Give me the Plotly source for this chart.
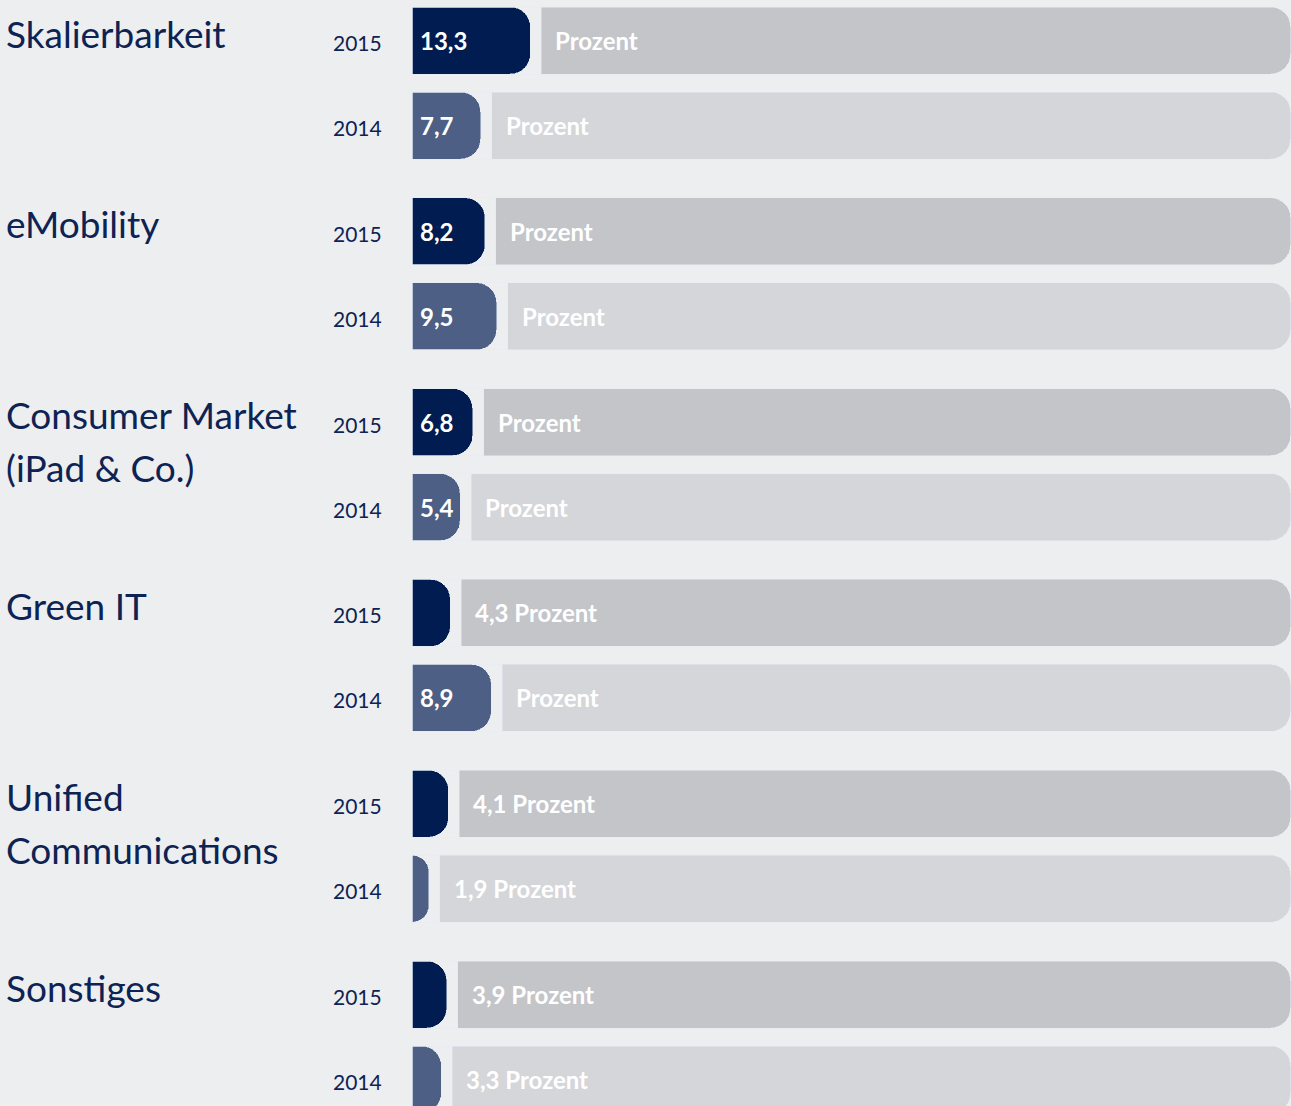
import plotly.graph_objects as go

categories = ["Skalierbarkeit", "eMobility", "Consumer Market<br>(iPad & Co.)",
              "Green IT", "Unified<br>Communications", "Sonstiges"]
years = ["2015", "2014"]
v2015 = [13.3, 8.2, 6.8, 4.3, 4.1, 3.9]
v2014 = [7.7, 9.5, 5.4, 8.9, 1.9, 3.3]

W, H = 1291, 1106
PX = 8.9          # pixels per percent
X0 = 412          # pixel where bars start
GAP = 11 / PX     # gap between coloured and grey bar
XMAX = (W - X0) / PX

FIRST = 40.5      # centre of first bar (pixels)
GROUP = 190.8
ROW = 85

colors = {"2015": "#001c50", "2014": "#4d5f85"}
greys = {"2015": "#c4c5c9", "2014": "#d5d6d9"}
navy = "#0d2353"
lab_font = dict(family="Lato", size=24, color="white", weight="bold")


def fmt(v):
    return f"{v:.1f}".replace(".", ",")


fig = go.Figure()
annotations = []
for k, (yr, vals) in enumerate(zip(years, [v2015, v2014])):
    ypos = [FIRST + g * GROUP + k * ROW for g in range(len(categories))]
    # coloured value bars on x/y
    fig.add_trace(go.Bar(
        x=vals, y=ypos, orientation="h", width=67,
        marker=dict(color=colors[yr], cornerradius=20), hoverinfo="skip",
        xaxis="x", yaxis="y",
    ))
    # grey remainder: invisible spacer + grey bar stacked on second axes
    fig.add_trace(go.Bar(
        x=[v + GAP for v in vals], y=ypos, orientation="h", width=67,
        marker=dict(color="rgba(0,0,0,0)"), hoverinfo="skip",
        xaxis="x2", yaxis="y2",
    ))
    fig.add_trace(go.Bar(
        x=[XMAX - 0.05 - (v + GAP) for v in vals],
        y=ypos, orientation="h", width=67,
        marker=dict(color=greys[yr], cornerradius=20), hoverinfo="skip",
        xaxis="x2", yaxis="y2",
    ))
    for v, y in zip(vals, ypos):
        annotations.append(dict(
            x=-81 / PX, y=y, xref="x", yref="y", text=yr, showarrow=False,
            xanchor="left", yanchor="middle", yshift=-2,
            font=dict(family="Lato", size=21, color=navy)))
        if v >= 5:
            annotations.append(dict(
                x=0, y=y, xref="x", yref="y", text=fmt(v), showarrow=False,
                xanchor="left", xshift=6, font=lab_font))
            grey_txt = "Prozent"
        else:
            grey_txt = fmt(v) + " Prozent"
        annotations.append(dict(
            x=v + GAP, y=y, xref="x", yref="y", text=grey_txt, showarrow=False,
            xanchor="left", xshift=12, font=lab_font))

for g, cat in enumerate(categories):
    for li, line in enumerate(cat.split("<br>")):
        annotations.append(dict(
            x=-X0 / PX, y=FIRST + g * GROUP, xref="x", yref="y", text=line, showarrow=False,
            xanchor="left", yanchor="top", yshift=32 - li * 53, xshift=4, align="left",
            font=dict(family="Lato", size=37, color=navy)))

fig.update_layout(
    width=W, height=H, margin=dict(l=0, r=0, t=0, b=0),
    paper_bgcolor="#edeef0", plot_bgcolor="#edeef0",
    showlegend=False, barmode="stack",
    xaxis=dict(range=[-X0 / PX, XMAX], visible=False, fixedrange=True),
    yaxis=dict(range=[H, 0], visible=False, fixedrange=True),
    xaxis2=dict(range=[-X0 / PX, XMAX], visible=False, fixedrange=True,
                overlaying="x"),
    yaxis2=dict(range=[H, 0], visible=False, fixedrange=True, overlaying="y"),
    annotations=annotations,
)

fig.write_html(
    "out.html",
    config={"displayModeBar": False},
    post_script="document.body.style.margin='0';"
                "document.body.style.background='#edeef0';",
)
